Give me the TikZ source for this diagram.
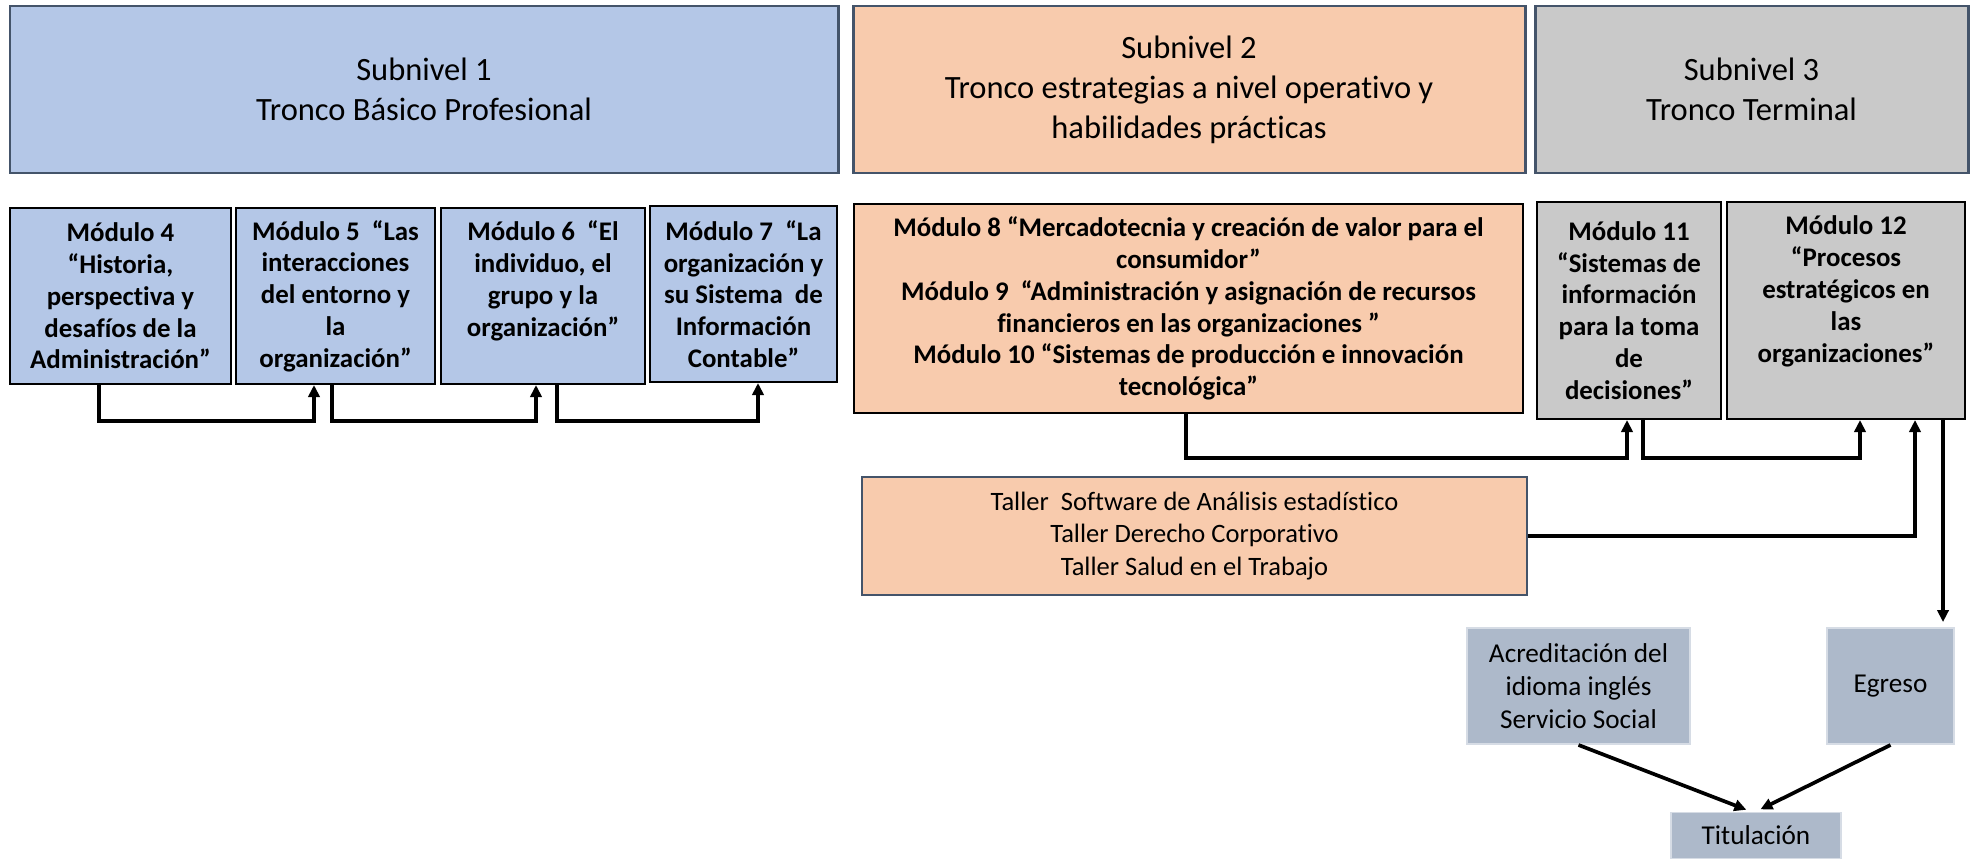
\documentclass[tikz,border=0pt]{standalone}
\usepackage{fontspec}
\setmainfont{Carlito}[Ligatures=NoCommon]
\usepackage{tikz}
\usetikzlibrary{arrows.meta,positioning}

\definecolor{subblue}{HTML}{B4C7E7}
\definecolor{suborange}{HTML}{F8CBAD}
\definecolor{subgrey}{HTML}{C9C9C9}
\definecolor{endgrey}{HTML}{ADB9CA}
\definecolor{slate}{HTML}{44546A}
\definecolor{endline}{HTML}{D6DCE5}

\tikzset{
  level/.style={draw=slate, line width=1.7pt, align=center,
    font=\fontsize{18.5}{22.7}\selectfont},
  modbox/.style={draw=black, line width=1.2pt, align=center, inner sep=2pt,
    font=\bfseries\fontsize{15.3}{18.1}\selectfont},
  tallerbox/.style={draw=slate, line width=1.1pt, fill=suborange, align=center,
    font=\fontsize{15.1}{18.4}\selectfont},
  endbox/.style={draw=endline, line width=1.1pt, fill=endgrey, align=center,
    font=\fontsize{15.5}{18.7}\selectfont},
  conn/.style={line width=2.1pt, -{Triangle[length=6.8pt,width=6.4pt]}}
}

\begin{document}
\begin{tikzpicture}[scale=1]
	  \useasboundingbox (0,0) rectangle (39.46,-17.18);
	  \clip (0,0) rectangle (39.46,-17.18);
	  % Draw the three sublevels
	  \node (sub1) [level, fill=subblue, minimum width=16.56cm, minimum height=3.34cm]
	      at (8.48,-1.79) {Subnivel 1\\Tronco Básico Profesional};
	  \node (sub2) [level, fill=suborange, minimum width=13.44cm, minimum height=3.34cm]
	      at (23.78,-1.79) {Subnivel 2\\Tronco estrategias a nivel operativo y\\habilidades prácticas};
	  \node (sub3) [level, fill=subgrey, minimum width=8.66cm, minimum height=3.34cm]
	      at (35.03,-1.79) {Subnivel 3\\Tronco Terminal};
	  % Modules of sublevel 1
	  \node (m4) [modbox, fill=subblue, minimum width=4.42cm, minimum height=3.52cm]
	      at (2.41,-5.92) {Módulo 4\\“Historia,\\perspectiva y\\desafíos de la\\Administración”};
	  \node (m5) [modbox, fill=subblue, minimum width=3.98cm, minimum height=3.52cm]
	      at (6.71,-5.92) {Módulo 5\ \ “Las\\interacciones\\del entorno y\\la\\organización”};
	  \node (m6) [modbox, fill=subblue, minimum width=4.08cm, minimum height=3.52cm,
	      label={[modbox, draw=none, anchor=north, inner sep=0.26cm]north:Módulo 6\ \ “El\\individuo, el\\grupo y la\\organización”}]
	      at (10.86,-5.92) {};
	  \node (m7) [modbox, fill=subblue, minimum width=3.74cm, minimum height=3.52cm]
	      at (14.87,-5.88) {Módulo 7\ \ “La\\organización y\\su Sistema\ \ de\\Información\\Contable”};
	  % Modules of sublevels 2 and 3
	  \node (m8) [modbox, fill=suborange, minimum width=13.38cm, minimum height=4.18cm]
	      at (23.77,-6.17) {Módulo 8 “Mercadotecnia y creación de valor para el\\consumidor”\\Módulo 9\ \ “Administración y asignación de recursos\\financieros en las organizaciones ”\\Módulo 10 “Sistemas de producción e innovación\\tecnológica”};
	  \node (m11) [modbox, fill=subgrey, minimum width=3.68cm, minimum height=4.34cm]
	      at (32.58,-6.21) {Módulo 11\\“Sistemas de\\información\\para la toma\\de\\decisiones”};
	  \node (m12) [modbox, fill=subgrey, minimum width=4.76cm, minimum height=4.34cm,
	      label={[modbox, draw=none, anchor=north, inner sep=0.28cm]north:Módulo 12\\“Procesos\\estratégicos en\\las\\organizaciones”}]
	      at (36.92,-6.21) {};
	  \node (taller) [tallerbox, minimum width=13.30cm, minimum height=2.36cm]
	      at (23.89,-10.72) {Taller\ \ Software de Análisis estadístico\\Taller Derecho Corporativo\\Taller Salud en el Trabajo};
	  % Final steps
	  \node (acred) [endbox, minimum width=4.46cm, minimum height=2.32cm]
	      at (31.57,-13.72) {Acreditación del\\idioma inglés\\Servicio Social};
	  \node (egreso) [endbox, minimum width=2.54cm, minimum height=2.32cm]
	      at (37.81,-13.72) {Egreso};
	  \node (titul) [endbox, minimum width=3.40cm, minimum height=0.92cm]
	      at (35.12,-16.71) {Titulación};
	  % Connectors between modules
	  \draw [conn] ([xshift=-0.43cm]m4.south) -- ++(0,-0.72) -| ([xshift=-0.43cm]m5.south);
	  \draw [conn] ([xshift=-0.07cm]m5.south) -- ++(0,-0.72) -| ([xshift=-0.14cm]m6.south);
	  \draw [conn] ([xshift=0.28cm]m6.south) -- ++(0,-0.72) -| ([xshift=0.29cm]m7.south);
	  \draw [conn] ([xshift=-0.05cm]m8.south) -- ++(0,-0.88) -| ([xshift=-0.04cm]m11.south);
	  \draw [conn] ([xshift=0.28cm]m11.south) -- ++(0,-0.76) -| ([xshift=0.28cm]m12.south);
	  \draw [conn] (taller.east) -| ([xshift=1.38cm]m12.south);
	  \draw [conn, shorten >=0.1cm] ([xshift=1.94cm]m12.south) -- ([xshift=1.05cm]egreso.north);
	  \draw [conn, shorten >=0.1cm] (acred.south) -- ([xshift=-0.1cm]titul.north);
	  \draw [conn, shorten >=0.1cm] (egreso.south) -- (titul.north);
      \end{tikzpicture}
\end{document}
